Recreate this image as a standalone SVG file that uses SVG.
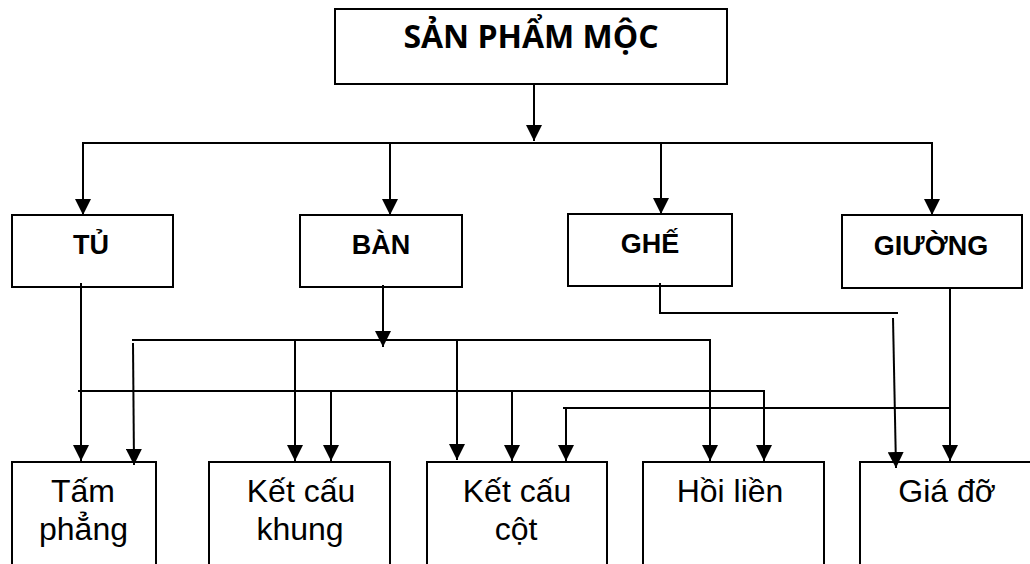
<svg xmlns="http://www.w3.org/2000/svg" width="1030" height="564" viewBox="0 0 1030 564">
  <style>
    .box { fill: #ffffff; stroke: #000000; stroke-width: 2; }
    .wire { fill: none; stroke: #000000; stroke-width: 2; }
    .title { font-family: "Open Sans", "Liberation Sans", sans-serif; font-weight: bold; font-size: 32px; text-anchor: middle; fill: #000000; }
    .cat { font-family: "Liberation Sans", Arial, sans-serif; font-weight: bold; font-size: 27px; text-anchor: middle; fill: #000000; }
    .part { font-family: "Liberation Sans", Arial, sans-serif; font-size: 32px; text-anchor: middle; fill: #000000; }
  </style>
  <defs>
    <marker id="arrow" viewBox="0 0 16 16" refX="16" refY="8" markerWidth="16" markerHeight="16" markerUnits="userSpaceOnUse" orient="auto">
      <path d="M0,0 L16,8 L0,16 Z" fill="#000000"/>
    </marker>
  </defs>
  <rect width="1030" height="564" fill="#ffffff"/>

  <!-- root -->
  <g id="san-pham-moc">
    <rect class="box" x="335" y="9" width="392" height="75"/>
    <text class="title" x="531" y="48">SẢN PHẨM MỘC</text>
  </g>

  <!-- product categories -->
  <g id="tu">
    <rect class="box" x="12" y="215" width="161" height="72"/>
    <text class="cat" x="91" y="254">TỦ</text>
  </g>
  <g id="ban">
    <rect class="box" x="300" y="215" width="162" height="72"/>
    <text class="cat" x="381" y="254">BÀN</text>
  </g>
  <g id="ghe">
    <rect class="box" x="568" y="214" width="164" height="72"/>
    <text class="cat" x="650" y="253">GHẾ</text>
  </g>
  <g id="giuong">
    <rect class="box" x="842" y="215" width="180" height="73"/>
    <text class="cat" x="931" y="255">GIƯỜNG</text>
  </g>

  <!-- structural types -->
  <g id="tam-phang">
    <rect class="box" x="12" y="462" width="144" height="130"/>
    <text class="part" x="83" y="502">Tấm</text>
    <text class="part" x="83.5" y="540">phẳng</text>
  </g>
  <g id="ket-cau-khung">
    <rect class="box" x="209" y="462" width="181" height="130"/>
    <text class="part" x="301" y="502">Kết cấu</text>
    <text class="part" x="300" y="540">khung</text>
  </g>
  <g id="ket-cau-cot">
    <rect class="box" x="427" y="462" width="180" height="130"/>
    <text class="part" x="517" y="502">Kết cấu</text>
    <text class="part" x="516" y="540">cột</text>
  </g>
  <g id="hoi-lien">
    <rect class="box" x="643" y="462" width="181" height="130"/>
    <text class="part" x="730" y="502">Hồi liền</text>
  </g>
  <g id="gia-do">
    <rect class="box" x="860" y="462" width="180" height="130"/>
    <text class="part" x="947" y="502">Giá đỡ</text>
  </g>

  <g id="connectors">
    <!-- root to categories -->
    <line class="wire" x1="534" y1="84" x2="534" y2="141" marker-end="url(#arrow)"/>
    <line class="wire" x1="82" y1="143" x2="933" y2="143"/>
    <line class="wire" x1="83" y1="143" x2="83" y2="215" marker-end="url(#arrow)"/>
    <line class="wire" x1="390" y1="143" x2="390" y2="215" marker-end="url(#arrow)"/>
    <line class="wire" x1="661" y1="143" x2="661" y2="214" marker-end="url(#arrow)"/>
    <line class="wire" x1="932" y1="143" x2="932" y2="215" marker-end="url(#arrow)"/>

    <!-- TỦ -->
    <line class="wire" x1="81" y1="283" x2="81" y2="461" marker-end="url(#arrow)"/>
    <line class="wire" x1="78" y1="391" x2="765" y2="391"/>
    <line class="wire" x1="331" y1="391" x2="331" y2="461" marker-end="url(#arrow)"/>
    <line class="wire" x1="512" y1="391" x2="512" y2="461" marker-end="url(#arrow)"/>
    <line class="wire" x1="764" y1="391" x2="764" y2="461" marker-end="url(#arrow)"/>

    <!-- BÀN -->
    <line class="wire" x1="383" y1="285" x2="383" y2="347" marker-end="url(#arrow)"/>
    <line class="wire" x1="132" y1="340" x2="711" y2="340"/>
    <line class="wire" x1="133" y1="343" x2="134" y2="465" marker-end="url(#arrow)"/>
    <line class="wire" x1="295" y1="340" x2="295" y2="461" marker-end="url(#arrow)"/>
    <line class="wire" x1="457" y1="340" x2="457" y2="460" marker-end="url(#arrow)"/>
    <line class="wire" x1="710" y1="340" x2="710" y2="461" marker-end="url(#arrow)"/>

    <!-- GHẾ -->
    <polyline class="wire" points="660,283 660,313 898,313"/>
    <line class="wire" x1="893" y1="318" x2="896" y2="468" marker-end="url(#arrow)"/>

    <!-- GIƯỜNG -->
    <line class="wire" x1="950" y1="288" x2="950" y2="461" marker-end="url(#arrow)"/>
    <line class="wire" x1="563" y1="408" x2="951" y2="408"/>
    <line class="wire" x1="566" y1="408" x2="566" y2="461" marker-end="url(#arrow)"/>
  </g>
</svg>
